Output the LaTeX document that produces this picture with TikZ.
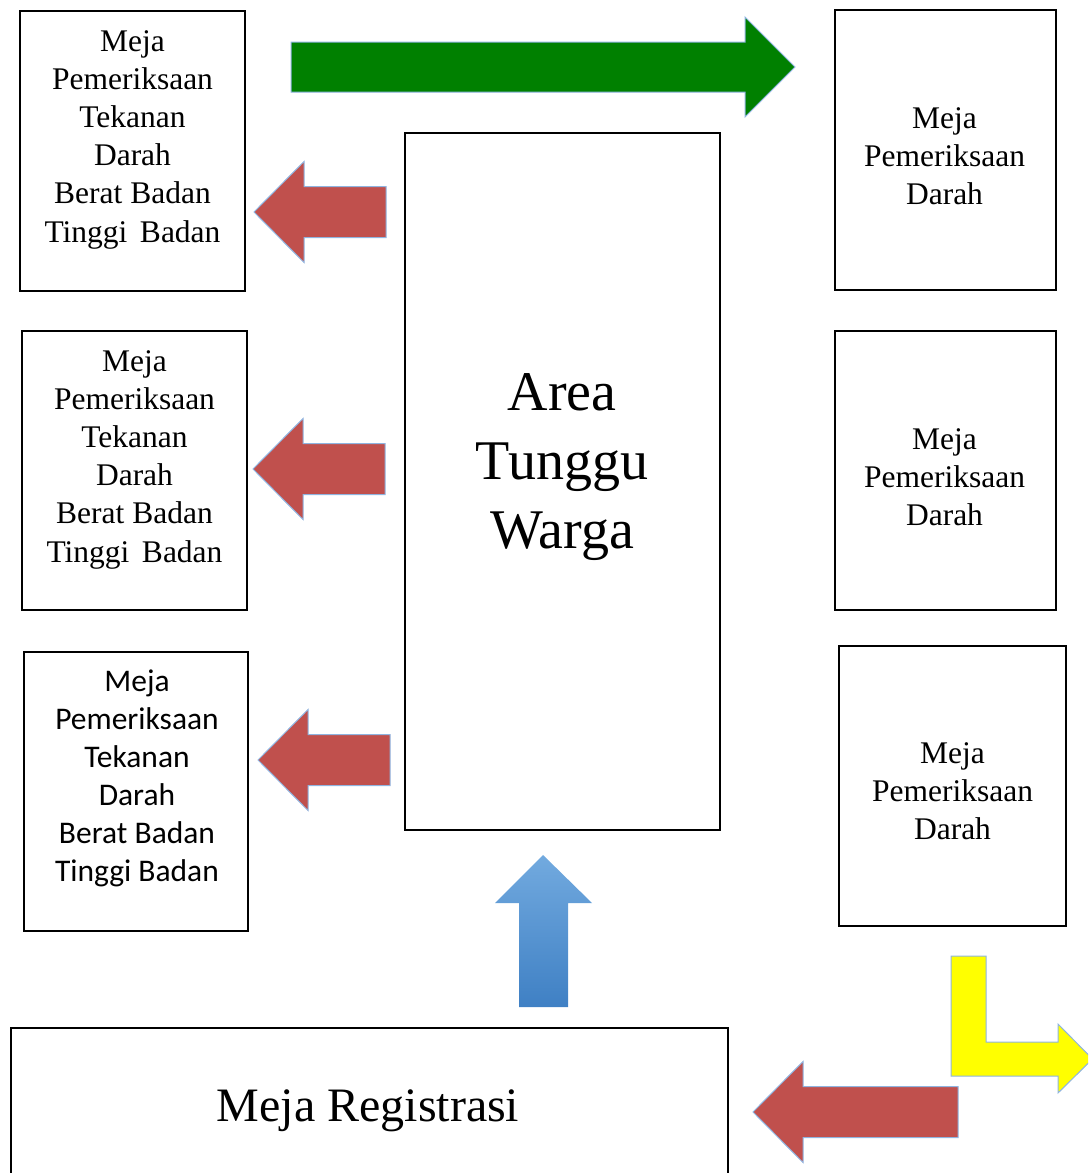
\documentclass[tikz,border=0pt]{standalone}
\usepackage{fontspec}
\setmainfont{Liberation Serif}
\newfontfamily\calibri{Carlito}
\definecolor{merah}{HTML}{C0504D}
\definecolor{hijau}{HTML}{008000}
\definecolor{kuning}{HTML}{FFFF00}
\definecolor{birumuda}{HTML}{72AADF}
\definecolor{birutua}{HTML}{3F80C4}
\definecolor{garisbiru}{HTML}{8FB4E0}
\tikzset{
	meja/.style={draw=black, line width=1.8, inner sep=0},
	tulisan/.style={font=\fontsize{31.5}{38.2}\selectfont, align=center, inner sep=0},
	panah/.style={draw=garisbiru, line width=1, line join=miter}
}
\begin{document}
\begin{tikzpicture}[x=1pt, y=-1pt]
			\useasboundingbox (0,0) rectangle (1088,1173);
			\clip (0,0) rectangle (1088,1173);
			% meja-meja
			\node[meja, minimum width=225, minimum height=280] (kiri1) at (132.5,151) {};
			\node[meja, minimum width=225, minimum height=279] (kiri2) at (134.5,470.5) {};
			\node[meja, minimum width=224, minimum height=279] (kiri3) at (136,791.5) {};
			\node[meja, minimum width=315, minimum height=697] (area) at (562.5,481.5) {};
			\node[meja, minimum width=221, minimum height=280] (kanan1) at (945.5,150) {};
			\node[meja, minimum width=221, minimum height=279] (kanan2) at (945.5,470.5) {};
			\node[meja, minimum width=227, minimum height=280] (kanan3) at (952.5,786) {};
			\node[meja, minimum width=717, minimum height=154] (regis) at (369.5,1105) {};
			% tulisan
			\node[tulisan] (tkiri1) at (132.5,139.5) {Meja\\Pemeriksaan\\Tekanan\\Darah\\Berat Badan\\Tinggi\hspace{0.15em} Badan};
			\node[tulisan] (tkiri2) at (134.5,459.5) {Meja\\Pemeriksaan\\Tekanan\\Darah\\Berat Badan\\Tinggi\hspace{0.15em} Badan};
			\node[tulisan, font=\calibri\fontsize{31.5}{38}\selectfont] (tkiri3) at (137,778.5) {Meja\\Pemeriksaan\\Tekanan\\Darah\\Berat Badan\\Tinggi Badan};
			\node[tulisan] (tkanan1) at (944.5,156) {Meja\\Pemeriksaan\\Darah};
			\node[tulisan] (tkanan2) at (944.5,477) {Meja\\Pemeriksaan\\Darah};
			\node[tulisan] (tkanan3) at (952.5,791) {Meja\\Pemeriksaan\\Darah};
			\node[tulisan, font=\fontsize{56}{69.2}\selectfont] (tarea) at (562,467) {Area\\Tunggu\\Warga};
			\node[tulisan, font=\fontsize{48}{58}\selectfont] (tregis) at (368,1110.5) {Meja Registrasi};
			% panah
			\draw[panah, fill=hijau] (291,42)--(745,42)--(745,17)--(795,67)--(745,117)--(745,92)--(291,92)--cycle;
			\foreach \t/\y/\l in {254/212/82, 253/469/82, 258/760/82, 753/1112/155}
			\draw[panah, fill=merah] (\t,\y)--++(50,-50.5)--++(0,25)--++(\l,0)--++(0,51)--++(-\l,0)--++(0,25)--cycle;
			\shade[top color=birumuda, bottom color=birutua] (519,1007)--(519,903)--(495,903)--(543,855)--(592,903)--(568,903)--(568,1007)--cycle;
			\draw[panah, fill=kuning] (951,956)--(986,956)--(986,1042)--(1058,1042)--(1058,1024)--(1092.5,1059)--(1058,1093)--(1058,1076)--(951,1076)--cycle;
			\end{tikzpicture}
\end{document}
